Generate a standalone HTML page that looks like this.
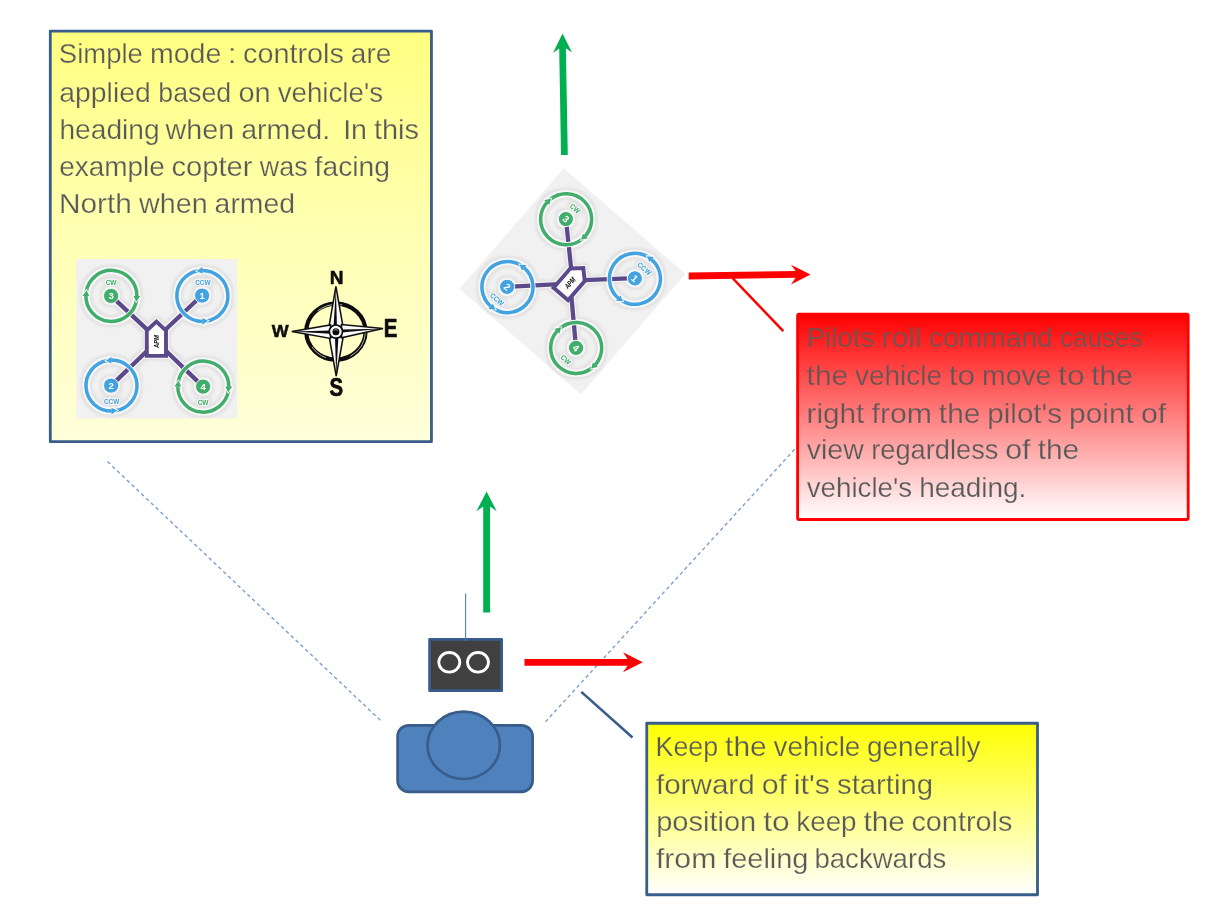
<!DOCTYPE html>
<html lang="en">
<head>
<meta charset="utf-8">
<title>Simple mode</title>
<style>
html,body{margin:0;padding:0;background:#fff;}
body{width:1220px;height:911px;overflow:hidden;position:relative;}
svg{position:absolute;left:0;top:0;display:block;will-change:transform;}
text{font-family:"Liberation Sans",sans-serif;}
.t{font-size:27.8px;fill:#595959;}
</style>
</head>
<body>
<svg width="1220" height="911" viewBox="0 0 1220 911">
<defs>
<linearGradient id="gy1" gradientUnits="userSpaceOnUse" x1="0" y1="31" x2="0" y2="441.7">
<stop offset="0" stop-color="#ffff80"/>
<stop offset="0.5" stop-color="#ffffb3"/>
<stop offset="1" stop-color="#ffffda"/>
</linearGradient>
<linearGradient id="gy2" gradientUnits="userSpaceOnUse" x1="0" y1="723.2" x2="0" y2="894.8">
<stop offset="0" stop-color="#ffff00"/>
<stop offset="0.5" stop-color="#ffff80"/>
<stop offset="1" stop-color="#ffffff"/>
</linearGradient>
<linearGradient id="gr" gradientUnits="userSpaceOnUse" x1="0" y1="314.1" x2="0" y2="519.3">
<stop offset="0" stop-color="#ff0000"/>
<stop offset="0.5" stop-color="#ff8080"/>
<stop offset="1" stop-color="#ffffff"/>
</linearGradient>
<filter id="glow" x="-10%" y="-10%" width="120%" height="120%" color-interpolation-filters="sRGB">
<feMorphology in="SourceAlpha" operator="dilate" radius="2.6" result="d1"/>
<feGaussianBlur in="d1" stdDeviation="1.3" result="b1"/>
<feFlood flood-color="#c4c4c4" flood-opacity="0.33"/>
<feComposite in2="b1" operator="in" result="sh"/>
<feMorphology in="SourceAlpha" operator="dilate" radius="1.3" result="d2"/>
<feGaussianBlur in="d2" stdDeviation="0.5" result="b2"/>
<feFlood flood-color="#f6f6f6"/>
<feComposite in2="b2" operator="in" result="hl"/>
<feMerge><feMergeNode in="sh"/><feMergeNode in="hl"/><feMergeNode in="SourceGraphic"/></feMerge>
</filter>
<filter id="soft" x="-5%" y="-5%" width="110%" height="110%"><feGaussianBlur stdDeviation="0.75"/></filter>
<g id="ring">
<circle r="25.5" fill="none" stroke="#f8f8f8" stroke-width="5.3"/>
<path d="M25.19 3.99 A25.5 25.5 0 0 1 -25.50 -0.22 M-25.19 -3.99 A25.5 25.5 0 0 1 25.50 0.22" fill="none" stroke="currentColor" stroke-width="3.5"/>
<path d="M22.39 0.59 L24.85 5.74 L28.59 0.75 M-22.39 -0.59 L-24.85 -5.74 L-28.59 -0.75" fill="none" stroke="#f8f8f8" stroke-width="1.7"/>
<path d="M22.10 0.00 L28.90 0.00 L24.85 5.74 Z M-22.10 0.00 L-28.90 0.00 L-24.85 -5.74 Z" fill="currentColor" stroke="none"/>
</g>
</defs>

<!-- dashed sight lines -->
<line x1="107.5" y1="461.6" x2="381.9" y2="721.8" stroke="#7c9fd0" stroke-width="1.4" stroke-dasharray="3.6 3.05"/>
<line x1="545.4" y1="721.9" x2="820" y2="421.5" stroke="#7c9fd0" stroke-width="1.4" stroke-dasharray="3.6 3.05"/>

<!-- box 1 -->
<rect x="50.3" y="31.05" width="381.15" height="410.6" fill="url(#gy1)" stroke="#385d8a" stroke-width="2.8" stroke-linejoin="round"/>
<g class="t" stroke="url(#gy1)" stroke-width="0.25">
<text y="63.30"><tspan x="58.85" textLength="84.04" lengthAdjust="spacingAndGlyphs">Simple</tspan> <tspan x="149.95" textLength="71.46" lengthAdjust="spacingAndGlyphs">mode</tspan> <tspan x="227.69" textLength="8.89" lengthAdjust="spacingAndGlyphs">:</tspan> <tspan x="242.97" textLength="100.98" lengthAdjust="spacingAndGlyphs">controls</tspan> <tspan x="350.89" textLength="40.46" lengthAdjust="spacingAndGlyphs">are</tspan></text>
<text y="101.90"><tspan x="59.33" textLength="91.40" lengthAdjust="spacingAndGlyphs">applied</tspan> <tspan x="158.36" textLength="72.85" lengthAdjust="spacingAndGlyphs">based</tspan> <tspan x="238.41" textLength="32.20" lengthAdjust="spacingAndGlyphs">on</tspan> <tspan x="277.67" textLength="105.40" lengthAdjust="spacingAndGlyphs">vehicle's</tspan></text>
<text y="138.70"><tspan x="59.46" textLength="100.22" lengthAdjust="spacingAndGlyphs">heading</tspan> <tspan x="165.64" textLength="68.60" lengthAdjust="spacingAndGlyphs">when</tspan> <tspan x="241.17" textLength="88.98" lengthAdjust="spacingAndGlyphs">armed.</tspan> <tspan x="343.17" textLength="23.84" lengthAdjust="spacingAndGlyphs">In</tspan> <tspan x="373.97" textLength="45.07" lengthAdjust="spacingAndGlyphs">this</tspan></text>
<text y="175.90"><tspan x="59.21" textLength="105.66" lengthAdjust="spacingAndGlyphs">example</tspan> <tspan x="171.41" textLength="81.05" lengthAdjust="spacingAndGlyphs">copter</tspan> <tspan x="259.81" textLength="47.89" lengthAdjust="spacingAndGlyphs">was</tspan> <tspan x="314.60" textLength="75.45" lengthAdjust="spacingAndGlyphs">facing</tspan></text>
<text y="213.20"><tspan x="59.03" textLength="72.89" lengthAdjust="spacingAndGlyphs">North</tspan> <tspan x="139.10" textLength="68.60" lengthAdjust="spacingAndGlyphs">when</tspan> <tspan x="214.64" textLength="80.37" lengthAdjust="spacingAndGlyphs">armed</tspan></text>
</g>
<g filter="url(#soft)">
<rect transform="translate(76.3 259)" x="0" y="0" width="161" height="159.4" fill="#f1f1f1"/>
<g filter="url(#glow)"><g transform="translate(76.3 259)">
<g fill="none" stroke="#5b4a8b" stroke-width="4.3">
<line x1="34.8" y1="36.9" x2="72" y2="71.6"/>
<line x1="125.5" y1="36.5" x2="88.5" y2="71.2"/>
<line x1="34.8" y1="126.6" x2="72" y2="90.7"/>
<line x1="126.8" y1="127.6" x2="88.5" y2="90.7"/>
</g>
<path d="M70.5 71.5 L80.1 62.6 L89.7 71.5 L89.7 96.9 L70.5 96.9 Z" fill="#fff" stroke="#5b4a8b" stroke-width="3.9"/>
<text transform="translate(82.5 88.9) rotate(-90)" font-size="7.7" font-weight="bold" font-style="italic" fill="#111" textLength="12.8" lengthAdjust="spacingAndGlyphs">APM</text>
<use href="#ring" transform="translate(35.1 36.9)" color="#41ad6b"/>
<use href="#ring" transform="translate(126.1 36.9) rotate(90) scale(-1 1)" color="#43a3e0"/>
<use href="#ring" transform="translate(35.2 126.6) rotate(90) scale(-1 1)" color="#43a3e0"/>
<use href="#ring" transform="translate(127 127.6)" color="#41ad6b"/>
<g stroke="#f8f8f8" stroke-width="1">
<circle cx="34.8" cy="36.9" r="7.6" fill="#41ad6b"/>
<circle cx="125.8" cy="36.6" r="7.6" fill="#43a3e0"/>
<circle cx="34.8" cy="126.6" r="7.6" fill="#43a3e0"/>
<circle cx="126.8" cy="127.6" r="7.6" fill="#41ad6b"/>
</g>
<g font-weight="bold" font-size="9.6" fill="#fff" text-anchor="middle">
<text x="34.8" y="40.3">3</text>
<text x="125.8" y="40">1</text>
<text x="34.8" y="130">2</text>
<text x="126.8" y="131">4</text>
</g>
<g font-weight="bold" font-size="7.3" lengthAdjust="spacingAndGlyphs">
<text x="29.4" y="25.6" textLength="10.8" lengthAdjust="spacingAndGlyphs" fill="#41ad6b">CW</text>
<text x="118.9" y="25.6" textLength="15.4" lengthAdjust="spacingAndGlyphs" fill="#43a3e0">CCW</text>
<text x="27.6" y="145.2" textLength="15.4" lengthAdjust="spacingAndGlyphs" fill="#43a3e0">CCW</text>
<text x="121.4" y="145.9" textLength="10.8" lengthAdjust="spacingAndGlyphs" fill="#41ad6b">CW</text>
</g>
</g></g>
</g>

<!-- compass -->
<g id="compass">
<ellipse cx="335.9" cy="331.6" rx="29.6" ry="28" fill="none" stroke="#0d0d0d" stroke-width="4.2"/>
<ellipse cx="336.4" cy="332" rx="29" ry="27.6" fill="none" stroke="#f4f4d8" stroke-width="0.7" stroke-dasharray="30 25 18 40 26 44"/>
<g fill="#fafafa" stroke="#0d0d0d" stroke-width="1.5" stroke-linejoin="miter">
<path d="M335.9 286.4 L343 326.5 L329 326.5 Z"/>
<path d="M336.2 376 L329.2 337 L343.2 337 Z"/>
<path d="M291.8 331.6 L330.5 324.9 L330.5 338.4 Z"/>
<path d="M383 328.5 L341.5 337.8 L341.5 324.6 Z"/>
</g>
<g fill="#0d0d0d" stroke="none">
<path d="M335.9 287 L336.9 326.5 L333.6 326.5 Z"/>
<path d="M336.2 375.5 L335 337 L338.4 337 Z"/>
<path d="M292.5 331.6 L330.5 330.6 L330.5 333.8 Z"/>
<path d="M382.4 328.7 L341.5 332.4 L341.5 329.4 Z"/>
</g>
<circle cx="335.9" cy="331.6" r="6.6" fill="#fafafa" stroke="#0d0d0d" stroke-width="1.7"/>
<circle cx="335.9" cy="331.8" r="3.5" fill="#0d0d0d"/>
<path d="M334 330.6 A2.2 2.2 0 0 1 337.6 330.4" fill="none" stroke="#e8e8e8" stroke-width="0.7"/>
<g font-weight="bold" fill="#0d0d0d" stroke="#0d0d0d" stroke-width="0.45" stroke-linejoin="round">
<text transform="translate(329.63 283.50) scale(1.191 1.090)" font-size="16">N</text>
<text transform="translate(329.61 396.24) scale(1.273 1.633)" font-size="16">S</text>
<text transform="translate(271.78 337.00) scale(1.121 1.063)" font-size="16">W</text>
<text transform="translate(383.73 337.30) scale(1.281 1.608)" font-size="16">E</text>
</g>
</g>

<!-- rotated quad -->
<g filter="url(#soft)">
<rect transform="translate(572.4 281.3) rotate(40.9) translate(-80.5 -79.7)" x="0" y="0" width="161" height="159.4" fill="#f1f1f1"/>
<g filter="url(#glow)"><g transform="translate(572.4 281.3) rotate(40.9) translate(-80.5 -79.7)">
<g fill="none" stroke="#5b4a8b" stroke-width="4.3">
<line x1="34.8" y1="36.9" x2="72" y2="71.6"/>
<line x1="125.5" y1="36.5" x2="88.5" y2="71.2"/>
<line x1="34.8" y1="126.6" x2="72" y2="90.7"/>
<line x1="126.8" y1="127.6" x2="88.5" y2="90.7"/>
</g>
<path d="M70.5 71.5 L80.1 62.6 L89.7 71.5 L89.7 96.9 L70.5 96.9 Z" fill="#fff" stroke="#5b4a8b" stroke-width="3.9"/>
<text transform="translate(82.5 88.9) rotate(-90)" font-size="7.7" font-weight="bold" font-style="italic" fill="#111" textLength="12.8" lengthAdjust="spacingAndGlyphs">APM</text>
<use href="#ring" transform="translate(35.1 36.9)" color="#41ad6b"/>
<use href="#ring" transform="translate(126.1 36.9) rotate(90) scale(-1 1)" color="#43a3e0"/>
<use href="#ring" transform="translate(35.2 126.6) rotate(90) scale(-1 1)" color="#43a3e0"/>
<use href="#ring" transform="translate(127 127.6)" color="#41ad6b"/>
<g stroke="#f8f8f8" stroke-width="1">
<circle cx="34.8" cy="36.9" r="7.6" fill="#41ad6b"/>
<circle cx="125.8" cy="36.6" r="7.6" fill="#43a3e0"/>
<circle cx="34.8" cy="126.6" r="7.6" fill="#43a3e0"/>
<circle cx="126.8" cy="127.6" r="7.6" fill="#41ad6b"/>
</g>
<g font-weight="bold" font-size="9.6" fill="#fff" text-anchor="middle">
<text x="34.8" y="40.3">3</text>
<text x="125.8" y="40">1</text>
<text x="34.8" y="130">2</text>
<text x="126.8" y="131">4</text>
</g>
<g font-weight="bold" font-size="7.3" lengthAdjust="spacingAndGlyphs">
<text x="29.4" y="25.6" textLength="10.8" lengthAdjust="spacingAndGlyphs" fill="#41ad6b">CW</text>
<text x="118.9" y="25.6" textLength="15.4" lengthAdjust="spacingAndGlyphs" fill="#43a3e0">CCW</text>
<text x="27.6" y="145.2" textLength="15.4" lengthAdjust="spacingAndGlyphs" fill="#43a3e0">CCW</text>
<text x="121.4" y="145.9" textLength="10.8" lengthAdjust="spacingAndGlyphs" fill="#41ad6b">CW</text>
</g>
</g></g>
</g>

<!-- green arrow top -->
<g fill="#00b050" stroke="none">
<path d="M561 155.1 L567.8 155.1 L565.9 48.2 L572 52.6 L562.5 33.6 L553 52.9 L559.2 48.4 Z"/>
</g>
<!-- red arrow top -->
<path d="M688.7 272.5 L688.7 279.5 L795.6 277.8 L791 284.4 L810.5 274.4 L791 264.8 L795.6 271 Z" fill="#ff0000"/>
<line x1="732.5" y1="278" x2="783.3" y2="331.2" stroke="#ff0000" stroke-width="2.5"/>

<!-- red box -->
<rect x="797.6" y="314.2" width="390.6" height="205.3" rx="1.5" ry="1.5" fill="url(#gr)" stroke="#ff0000" stroke-width="2.8"/>
<g class="t" stroke="url(#gr)" stroke-width="0.25">
<text y="346.90" fill="#6b5454"><tspan x="806.46" textLength="67.98" lengthAdjust="spacingAndGlyphs">Pilots</tspan> <tspan x="881.29" textLength="40.60" lengthAdjust="spacingAndGlyphs">roll</tspan> <tspan x="928.75" textLength="124.09" lengthAdjust="spacingAndGlyphs">command</tspan> <tspan x="1059.97" textLength="82.48" lengthAdjust="spacingAndGlyphs">causes</tspan></text>
<text y="385.20" fill="#635656"><tspan x="806.61" textLength="41.54" lengthAdjust="spacingAndGlyphs">the</tspan> <tspan x="855.00" textLength="86.91" lengthAdjust="spacingAndGlyphs">vehicle</tspan> <tspan x="948.69" textLength="26.46" lengthAdjust="spacingAndGlyphs">to</tspan> <tspan x="982.13" textLength="69.19" lengthAdjust="spacingAndGlyphs">move</tspan> <tspan x="1058.07" textLength="26.47" lengthAdjust="spacingAndGlyphs">to</tspan> <tspan x="1091.27" textLength="41.54" lengthAdjust="spacingAndGlyphs">the</tspan></text>
<text y="422.60" fill="#5e5858"><tspan x="806.52" textLength="57.88" lengthAdjust="spacingAndGlyphs">right</tspan> <tspan x="871.54" textLength="60.44" lengthAdjust="spacingAndGlyphs">from</tspan> <tspan x="938.89" textLength="41.54" lengthAdjust="spacingAndGlyphs">the</tspan> <tspan x="987.28" textLength="74.77" lengthAdjust="spacingAndGlyphs">pilot's</tspan> <tspan x="1069.06" textLength="64.79" lengthAdjust="spacingAndGlyphs">point</tspan> <tspan x="1140.91" textLength="25.27" lengthAdjust="spacingAndGlyphs">of</tspan></text>
<text y="459.20"><tspan x="806.73" textLength="57.13" lengthAdjust="spacingAndGlyphs">view</tspan> <tspan x="871.27" textLength="127.16" lengthAdjust="spacingAndGlyphs">regardless</tspan> <tspan x="1005.21" textLength="25.27" lengthAdjust="spacingAndGlyphs">of</tspan> <tspan x="1037.67" textLength="41.55" lengthAdjust="spacingAndGlyphs">the</tspan></text>
<text y="496.60"><tspan x="806.74" textLength="105.40" lengthAdjust="spacingAndGlyphs">vehicle's</tspan> <tspan x="919.23" textLength="107.15" lengthAdjust="spacingAndGlyphs">heading.</tspan></text>
</g>

<!-- green arrow bottom -->
<path d="M483.2 612.6 L490.1 612.6 L490.1 506.6 L496.7 511.3 L486.6 491.4 L476.4 511.3 L483.2 506.6 Z" fill="#00b050"/>
<!-- antenna -->
<!-- transmitter -->
<rect x="429.6" y="639.4" width="72" height="51.3" fill="#404040" stroke="#385d8a" stroke-width="2.8" stroke-linejoin="round"/>
<line x1="465.6" y1="593.4" x2="465.6" y2="641" stroke="#4a7ebb" stroke-width="1.1"/>
<ellipse cx="449.3" cy="662.3" rx="10.5" ry="9.8" fill="none" stroke="#fff" stroke-width="2.8"/>
<ellipse cx="478" cy="662.3" rx="10.5" ry="9.8" fill="none" stroke="#fff" stroke-width="2.8"/>
<!-- red arrow bottom -->
<path d="M524.5 658.9 L524.5 665.7 L627.6 665.7 L623 672.3 L642.8 662.3 L623 652.3 L627.6 658.9 Z" fill="#ff0000"/>
<!-- right dashed line over arrow -->
<!-- pilot -->
<rect x="397.6" y="725.3" width="135" height="66.5" rx="11" ry="11" fill="#4f81bd" stroke="#385d8a" stroke-width="2.7"/>
<ellipse cx="463.7" cy="745.3" rx="36.2" ry="33.7" fill="#4f81bd" stroke="#385d8a" stroke-width="2.7"/>
<!-- blue callout line -->
<line x1="581.3" y1="691.9" x2="632.5" y2="737.5" stroke="#385d8a" stroke-width="2.6"/>
<!-- box 3 -->
<rect x="646.75" y="723.25" width="390.75" height="171.5" fill="url(#gy2)" stroke="#385d8a" stroke-width="2.8" stroke-linejoin="round"/>
<g class="t" stroke="url(#gy2)" stroke-width="0.25">
<text y="755.70"><tspan x="655.62" textLength="62.54" lengthAdjust="spacingAndGlyphs">Keep</tspan> <tspan x="725.08" textLength="41.55" lengthAdjust="spacingAndGlyphs">the</tspan> <tspan x="773.48" textLength="86.91" lengthAdjust="spacingAndGlyphs">vehicle</tspan> <tspan x="866.91" textLength="113.74" lengthAdjust="spacingAndGlyphs">generally</tspan></text>
<text y="793.50"><tspan x="655.92" textLength="98.83" lengthAdjust="spacingAndGlyphs">forward</tspan> <tspan x="761.71" textLength="25.27" lengthAdjust="spacingAndGlyphs">of</tspan> <tspan x="793.72" textLength="36.32" lengthAdjust="spacingAndGlyphs">it's</tspan> <tspan x="837.07" textLength="96.02" lengthAdjust="spacingAndGlyphs">starting</tspan></text>
<text y="830.80"><tspan x="656.21" textLength="100.06" lengthAdjust="spacingAndGlyphs">position</tspan> <tspan x="763.16" textLength="26.46" lengthAdjust="spacingAndGlyphs">to</tspan> <tspan x="796.33" textLength="60.21" lengthAdjust="spacingAndGlyphs">keep</tspan> <tspan x="863.42" textLength="41.55" lengthAdjust="spacingAndGlyphs">the</tspan> <tspan x="911.42" textLength="100.99" lengthAdjust="spacingAndGlyphs">controls</tspan></text>
<text y="867.90"><tspan x="655.91" textLength="60.44" lengthAdjust="spacingAndGlyphs">from</tspan> <tspan x="723.15" textLength="85.34" lengthAdjust="spacingAndGlyphs">feeling</tspan> <tspan x="814.41" textLength="131.87" lengthAdjust="spacingAndGlyphs">backwards</tspan></text>
</g>
</svg>
</body>
</html>
